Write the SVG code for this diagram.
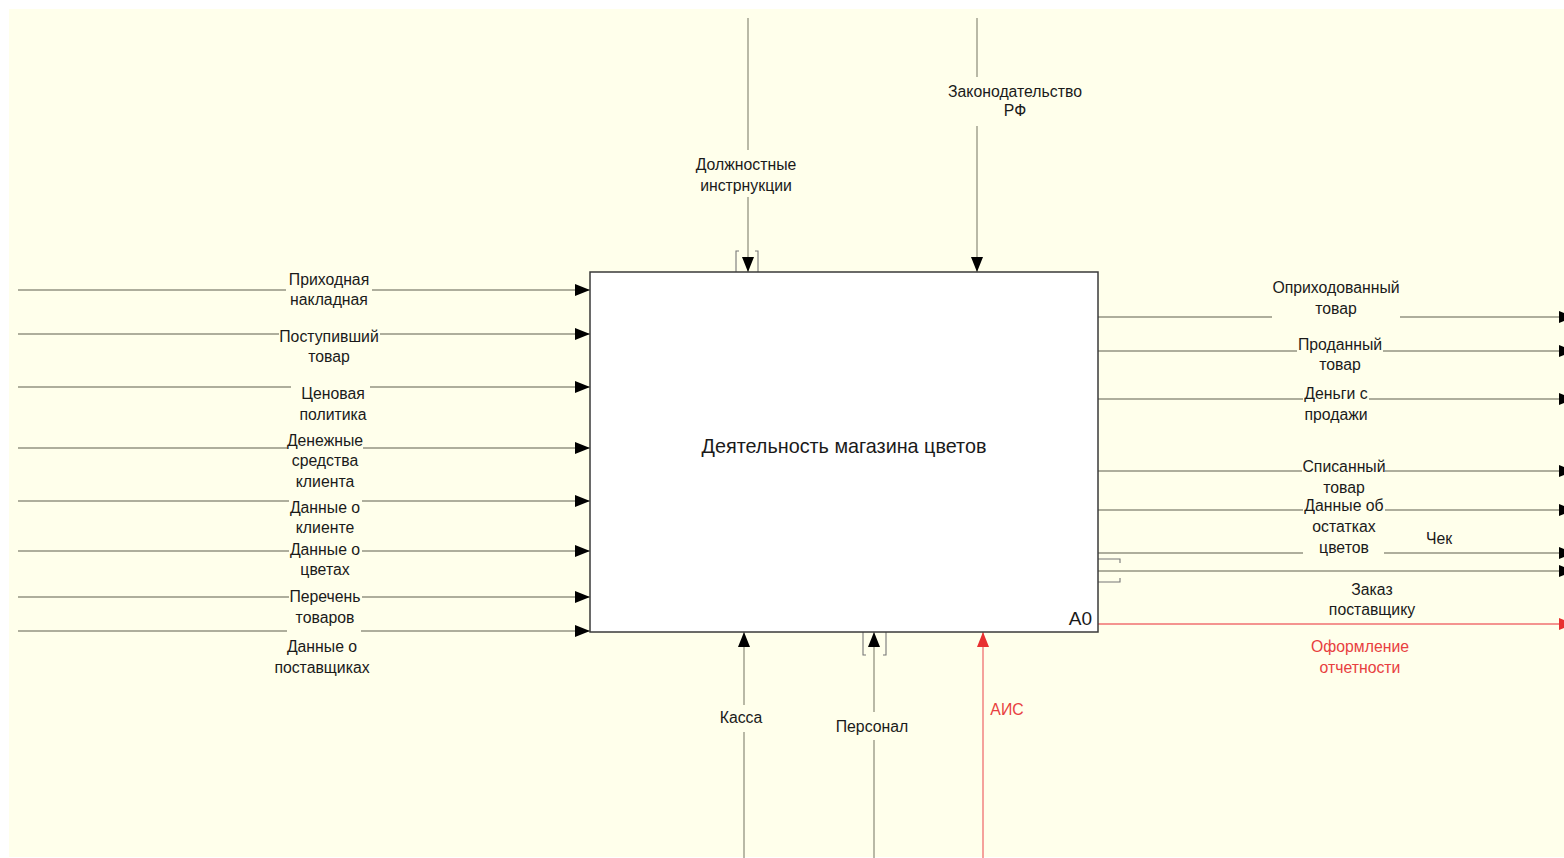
<svg xmlns="http://www.w3.org/2000/svg" width="1564" height="858" viewBox="0 0 1564 858">
<style>
.bg{fill:#FFFFEB}
.box{fill:#FFFFFF;stroke:#3a3a3a;stroke-width:1.5}
.ln{fill:none;stroke:#949482;stroke-width:1.3}
.lnr{fill:none;stroke:#F07070;stroke-width:1.3}
.brk{fill:none;stroke:#777;stroke-width:1.1}
text{font-family:"Liberation Sans",Arial,sans-serif;font-size:15.8px;fill:#1a1a1a;text-anchor:middle}
.red{fill:#E84040}
.title{font-size:19.8px}
.a0{font-size:19px;text-anchor:end}
</style>
<defs>
<marker id="ah" markerUnits="userSpaceOnUse" markerWidth="16" markerHeight="12" refX="15" refY="6" orient="auto">
<path d="M0,0 L15,6 L0,12 z" fill="#000"/>
</marker>
<marker id="ahr" markerUnits="userSpaceOnUse" markerWidth="16" markerHeight="12" refX="15" refY="6" orient="auto">
<path d="M0,0 L15,6 L0,12 z" fill="#E83030"/>
</marker>
</defs>
<rect x="0" y="0" width="1564" height="858" fill="#FFFFFF"/>
<rect class="bg" x="9" y="9" width="1555" height="848"/>

<g id="connectors">
<!-- inputs -->
<path class="ln" d="M18,290 H286 M372,290 H590" marker-end="url(#ah)"/>
<path class="ln" d="M18,334 H279 M380,334 H590" marker-end="url(#ah)"/>
<path class="ln" d="M18,387 H291 M370,387 H590" marker-end="url(#ah)"/>
<path class="ln" d="M18,448 H287 M363,448 H590" marker-end="url(#ah)"/>
<path class="ln" d="M18,501 H289 M362,501 H590" marker-end="url(#ah)"/>
<path class="ln" d="M18,551 H289 M362,551 H590" marker-end="url(#ah)"/>
<path class="ln" d="M18,597 H289 M362,597 H590" marker-end="url(#ah)"/>
<path class="ln" d="M18,631 H287 M361,631 H590" marker-end="url(#ah)"/>
<!-- controls -->
<path class="ln" d="M748,18 V150 M748,197 V272" marker-end="url(#ah)"/>
<path class="ln" d="M977,18 V77 M977,126 V272" marker-end="url(#ah)"/>
<path class="brk" d="M739,251 H736 V272 M755,251 H758 V272"/>
<!-- mechanisms -->
<path class="ln" d="M744,858 V732 M744,705 V632" marker-end="url(#ah)"/>
<path class="ln" d="M874,858 V740 M874,712 V632" marker-end="url(#ah)"/>
<path class="lnr" d="M983,858 V632" marker-end="url(#ahr)"/>
<path class="brk" d="M866,655 H863 V632 M883,655 H886 V632"/>
<!-- outputs -->
<path class="ln" d="M1098,317 H1272 M1400,317 H1574" marker-end="url(#ah)"/>
<path class="ln" d="M1098,351 H1297 M1383,351 H1574" marker-end="url(#ah)"/>
<path class="ln" d="M1098,399 H1303 M1369,399 H1574" marker-end="url(#ah)"/>
<path class="ln" d="M1098,471 H1302 M1385,471 H1574" marker-end="url(#ah)"/>
<path class="ln" d="M1098,510 H1303 M1385,510 H1574" marker-end="url(#ah)"/>
<path class="ln" d="M1098,553 H1303 M1384,553 H1574" marker-end="url(#ah)"/>
<path class="ln" d="M1098,571 H1574" marker-end="url(#ah)"/>
<path class="brk" d="M1098,559 H1120 V563 M1098,582 H1120 V578"/>
<path class="lnr" d="M1098,624 H1574" marker-end="url(#ahr)"/>
</g>

<g id="A0">
<rect class="box" x="590" y="272" width="508" height="360"/>
<text class="title" x="844" y="453">Деятельность магазина цветов</text>
<text class="a0" x="1092" y="625">A0</text>
</g>

<g id="labels">
<text x="329" y="285">Приходная</text>
<text x="329" y="305">накладная</text>
<text x="329" y="342">Поступивший</text>
<text x="329" y="362">товар</text>
<text x="333" y="399">Ценовая</text>
<text x="333" y="420">политика</text>
<text x="325" y="446">Денежные</text>
<text x="325" y="466">средства</text>
<text x="325" y="487">клиента</text>
<text x="325" y="513">Данные о</text>
<text x="325" y="533">клиенте</text>
<text x="325" y="555">Данные о</text>
<text x="325" y="575">цветах</text>
<text x="325" y="602">Перечень</text>
<text x="325" y="623">товаров</text>
<text x="322" y="652">Данные о</text>
<text x="322" y="673">поставщиках</text>

<text x="746" y="170">Должностные</text>
<text x="746" y="191">инстрнукции</text>
<text x="1015" y="97">Законодательство</text>
<text x="1015" y="116">РФ</text>

<text x="741" y="723">Касса</text>
<text x="872" y="732">Персонал</text>
<text class="red" x="1007" y="715">АИС</text>

<text x="1336" y="293">Оприходованный</text>
<text x="1336" y="314">товар</text>
<text x="1340" y="350">Проданный</text>
<text x="1340" y="370">товар</text>
<text x="1336" y="399">Деньги с</text>
<text x="1336" y="420">продажи</text>
<text x="1344" y="472">Списанный</text>
<text x="1344" y="493">товар</text>
<text x="1344" y="511">Данные об</text>
<text x="1344" y="532">остатках</text>
<text x="1344" y="553">цветов</text>
<text x="1439" y="544">Чек</text>
<text x="1372" y="595">Заказ</text>
<text x="1372" y="615">поставщику</text>
<text class="red" x="1360" y="652">Оформление</text>
<text class="red" x="1360" y="673">отчетности</text>
</g>
</svg>
